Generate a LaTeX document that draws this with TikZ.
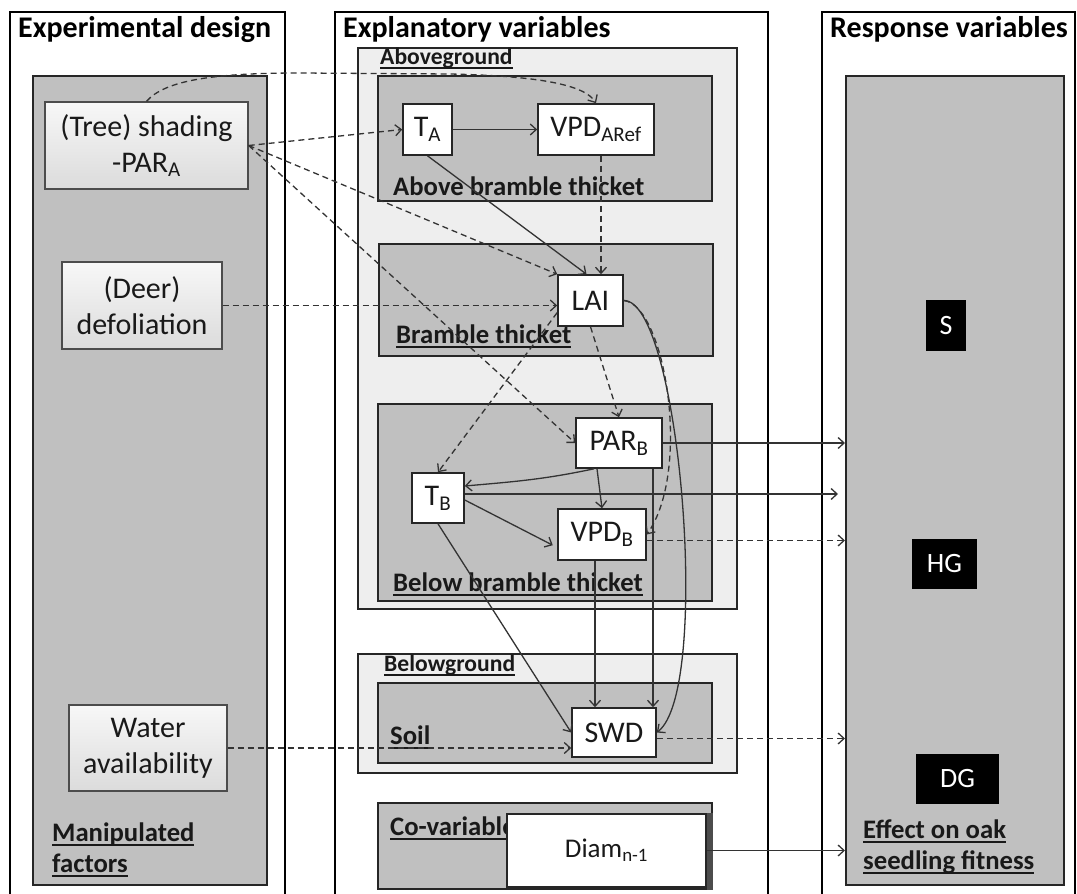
\documentclass[tikz,border=0pt]{standalone}
\usepackage{fontspec}
\setmainfont{Carlito}
\usetikzlibrary{arrows.meta}
\definecolor{boxgray}{HTML}{C0C0C0}
\definecolor{boxlight}{HTML}{EEEEEE}
\newcommand{\ulbar}[1]{\setbox0\hbox{#1}\rlap{\rule[-4.5pt]{\wd0}{1.6pt}}\box0}
\begin{document}
\begin{tikzpicture}[x=1pt, y=-1pt,
    panel/.style={draw=black, line width=2pt},
    grpdark/.style={draw=black!85, line width=2pt, fill=boxgray, inner sep=0pt, anchor=north west},
    grplight/.style={draw=black!85, line width=2pt, fill=boxlight, inner sep=0pt, anchor=north west},
    var/.style={draw=black!85, line width=1.6pt, fill=white, inner sep=0pt, text=black!90, font=\fontsize{30}{34}\selectfont},
    factor/.style={draw=black!70, line width=1.3pt, top color=gray!6, bottom color=gray!28, inner sep=0pt, align=center, text=black!90, font=\fontsize{30}{36}\selectfont},
    resp/.style={fill=black, text=white, inner sep=0pt, font=\fontsize{28}{32}\selectfont},
    ttl/.style={inner sep=0pt, anchor=base west, font=\fontsize{30}{34}\selectfont\bfseries},
    lbl/.style={inner sep=0pt, anchor=base west, text=black!90, font=\fontsize{26.7}{30}\selectfont\bfseries},
    smalllbl/.style={lbl, font=\fontsize{23.6}{28}\selectfont\bfseries},
    arr/.style={-{Straight Barb[length=6pt,width=11pt]}, line width=1.3pt, draw=black!80},
    darr/.style={arr, dash pattern=on 6pt off 4pt}]
    \useasboundingbox (0,0) rectangle (1077,894);

    % three columns
    \draw[panel] (10,894) -- (10,12) -- (285,12) -- (285,894);
    \draw[panel] (335,894) -- (335,12) -- (768,12) -- (768,894);
    \draw[panel] (822,894) -- (822,12) -- (1075,12) -- (1075,894);
    \node[ttl] (exptitle) at (18,37) {Experimental design};
    \node[ttl] (expltitle) at (343,37) {Explanatory variables};
    \node[ttl] (resptitle) at (830,37) {Response variables};

    % group boxes
    \node[grpdark, minimum width=234pt, minimum height=809pt] (manip) at (32,75) {};
    \node[grpdark, minimum width=218pt, minimum height=809pt] (effect) at (845,75) {};
    \node[grplight, minimum width=379pt, minimum height=561pt] (aboveg) at (357,47) {};
    \node[grpdark, minimum width=334pt, minimum height=125pt] (abovet) at (377,75) {};
    \node[grpdark, minimum width=334pt, minimum height=112pt] (bramble) at (378,243) {};
    \node[grpdark, minimum width=334pt, minimum height=197pt] (below) at (377,403) {};
    \node[grplight, minimum width=379pt, minimum height=119pt] (belowg) at (357,653) {};
    \node[grpdark, minimum width=334pt, minimum height=80pt] (soil) at (377,682) {};
    \node[grpdark, minimum width=334pt, minimum height=86pt] (covar) at (377,802) {};

    % group labels
    \node[smalllbl] (aboveglbl) at (380,64) {\ulbar{Aboveground}};
    \node[lbl] (abovetlbl) at (393,195) {Above bramble thicket};
    \node[lbl] (bramblelbl) at (396,343) {\ulbar{Bramble thicket}};
    \node[lbl] (belowlbl) at (393,591) {\ulbar{Below bramble thicket}};
    \node[smalllbl] (belowglbl) at (384,671) {\ulbar{Belowground}};
    \node[lbl] (soillbl) at (390,744) {\ulbar{Soil}};
    \node[lbl] (covarlbl) at (390,835) {\ulbar{Co-variables}};
    \node[lbl] (maniplbl) at (52,841) {\ulbar{Manipulated}};
    \node[lbl] (maniplbl2) at (52,872) {\ulbar{factors}};
    \node[lbl] (effectlbl) at (863,838) {\ulbar{Effect on oak}};
    \node[lbl] (effectlbl2) at (863,869) {\ulbar{seedling fitness}};

    % manipulated factors
    \node[factor, minimum width=203pt, minimum height=87pt] (shade) at (146.5,145.5) {(Tree) shading\\-PAR\textsubscript{A}};
    \node[factor, minimum width=160pt, minimum height=87pt] (deer) at (142,305.5) {(Deer)\\defoliation};
    \node[factor, minimum width=158pt, minimum height=86pt] (water) at (148,748) {Water\\availability};

    % explanatory variables
    \node[var, minimum width=49pt, minimum height=51pt] (TA) at (427.5,129.5) {T\textsubscript{A}};
    \node[var, minimum width=116pt, minimum height=51pt] (VPDA) at (596,129.5) {VPD\textsubscript{ARef}};
    \node[var, minimum width=65pt, minimum height=51pt] (LAI) at (590.5,300.5) {LAI};
    \node[var, minimum width=86pt, minimum height=50pt] (PARB) at (619,443) {PAR\textsubscript{B}};
    \node[var, minimum width=52pt, minimum height=50pt] (TB) at (438,498) {T\textsubscript{B}};
    \node[var, minimum width=88pt, minimum height=51pt] (VPDB) at (602,534.5) {VPD\textsubscript{B}};
    \node[var, minimum width=84pt, minimum height=49pt] (SWD) at (614,732.5) {SWD};
    \node[var, line width=1.4pt, minimum width=199pt, minimum height=73pt, font=\fontsize{27}{30}\selectfont] (Diam) at (606.5,850.5) {Diam\textsubscript{n-1}};
    \fill[black!70] (Diam.north east) rectangle (covar.south east);

    % response variables
    \node[resp, minimum width=40pt, minimum height=51pt] (S) at (946,325.5) {S};
    \node[resp, minimum width=65pt, minimum height=50pt] (HG) at (944.5,564) {HG};
    \node[resp, minimum width=83pt, minimum height=50pt] (DG) at (957.5,779) {DG};

    % links from the manipulated factors
    \draw[darr] (shade.north) .. controls (165,80) and (215,73) .. (300,73) -- (450,74) .. controls (540,76) and (585,85) .. (VPDA.north);
    \draw[darr] (shade.east) -- (TA.west);
    \draw[darr] (shade.east) -- (LAI.north west);
    \draw[darr] (shade.east) -- (PARB.west);
    \draw[darr] (deer.east) -- (deer.east -| LAI.west);
    \draw[darr] (water.east) -- (water.east -| SWD.west);

    % links between explanatory variables
    \draw[arr] (TA.east) -- (VPDA.west);
    \draw[arr] (TA.south) -- ([xshift=-4pt]LAI.north);
    \draw[darr] ([xshift=5pt]VPDA.south) -- ([xshift=5pt]VPDA.south |- LAI.north);
    \draw[darr] (LAI.south) -- (PARB.north);
    \draw[darr] (LAI.200) -- (TB.north);
    \draw[darr] (LAI.east) .. controls (665,305) and (692,470) .. (VPDB.east);
    \draw[arr] (LAI.east) .. controls (680,300) and (712,690) .. (SWD.east);
    \draw[arr] ([xshift=-25pt]PARB.south) to[out=192, in=5] ([yshift=12pt]TB.east);
    \draw[arr] ([xshift=-22pt]PARB.south) -- (VPDB.north);
    \draw[arr] ([xshift=34pt]PARB.south) -- ([xshift=39pt]SWD.north);
    \draw[arr, shorten >=5pt] ([yshift=-2pt]TB.east) -- ([yshift=-13pt]VPDB.west);
    \draw[arr] (TB.south) -- (SWD.west);
    \draw[arr] ([xshift=-7pt]VPDB.south) -- ([xshift=-19pt]SWD.north);

    % links to the response
    \draw[arr] (PARB.east) -- (PARB.east -| effect.west);
    \draw[arr, shorten >=7pt] ([yshift=4pt]TB.east) -- ([yshift=4pt]TB.east -| effect.west);
    \draw[darr] ([yshift=-6pt]VPDB.east) -- ([yshift=-6pt]VPDB.east -| effect.west);
    \draw[darr] ([yshift=-6pt]SWD.east) -- ([yshift=-6pt]SWD.east -| effect.west);
    \draw[arr] (Diam.east) -- (Diam.east -| effect.west);
\end{tikzpicture}
\end{document}
